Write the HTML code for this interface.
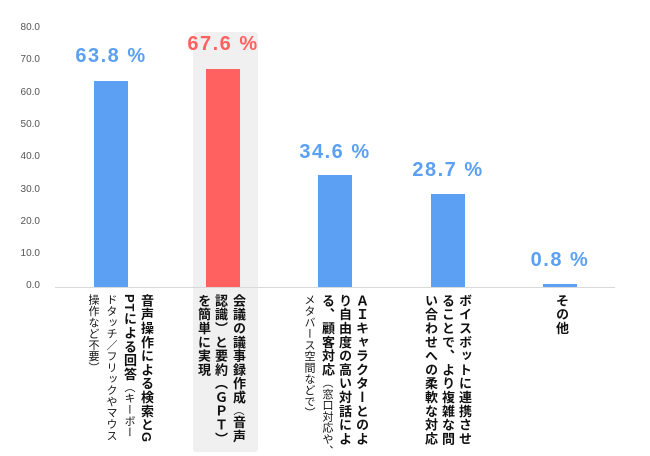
<!DOCTYPE html>
<html><head><meta charset="utf-8"><style>
body{margin:0;width:650px;height:456px;background:#fff;position:relative;overflow:hidden;font-family:"Liberation Sans","Noto Sans CJK JP",sans-serif}
.t{position:absolute;font-size:10px;color:#555;width:30px;text-align:right;left:10px}
.bar{position:absolute;width:34px}
.v{position:absolute;font-size:20px;letter-spacing:1.5px;font-weight:bold;color:#5ba0f2;width:140px;text-align:center}
.c{position:absolute;top:294px;writing-mode:vertical-rl;font-size:13px;letter-spacing:0.8px;font-weight:bold;line-height:17px;color:#111;white-space:nowrap}
.c s{text-decoration:none;font-size:11px;letter-spacing:0.3px;font-weight:normal}
</style></head><body>
<div style="position:absolute;left:193px;top:32px;width:65px;height:420px;background:#f0f0f0;border-radius:3px"></div>
<div class="t" style="top:22px">80.0</div>
<div class="t" style="top:54px">70.0</div>
<div class="t" style="top:87px">60.0</div>
<div class="t" style="top:119px">50.0</div>
<div class="t" style="top:151px">40.0</div>
<div class="t" style="top:184px">30.0</div>
<div class="t" style="top:216px">20.0</div>
<div class="t" style="top:248px">10.0</div>
<div class="t" style="top:280px">0.0</div>
<div style="position:absolute;left:55px;top:287px;width:560px;height:1px;background:#d9d9d9"></div>
<div class="bar" style="left:94px;top:81px;height:206px;background:#5ba0f2"></div>
<div class="bar" style="left:206px;top:69px;height:218px;background:#ff6161"></div>
<div class="bar" style="left:318px;top:175px;height:112px;background:#5ba0f2"></div>
<div class="bar" style="left:431px;top:194px;height:93px;background:#5ba0f2"></div>
<div class="bar" style="left:543px;top:284px;height:3px;background:#5ba0f2"></div>
<div class="v" style="left:41px;top:45px">63.8 %</div>
<div class="v" style="left:153px;top:33px;color:#ff6161">67.6 %</div>
<div class="v" style="left:265px;top:141px">34.6 %</div>
<div class="v" style="left:378px;top:159px">28.7 %</div>
<div class="v" style="left:490px;top:249px">0.8 %</div>
<div class="c" style="right:495px">音声操作による検索とG<br>PTによる回答<s>（キーボー<br>ドタッチ／フリックやマウス<br>操作など不要）</s></div>
<div class="c" style="right:403px">会議の議事録作成<s>（</s>音声<br>認識）と要約（ＧＰＴ）<br>を簡単に実現</div>
<div class="c" style="right:280px">ＡＩキャラクターとのよ<br>り自由度の高い対話によ<br>る、顧客対応<s>（窓口対応や、<br>メタバース空間などで）</s></div>
<div class="c" style="right:177px">ボイスボットに連携させ<br>ることで、より複雑な問<br>い合わせへの柔軟な対応</div>
<div class="c" style="right:80px">その他</div>
</body></html>
